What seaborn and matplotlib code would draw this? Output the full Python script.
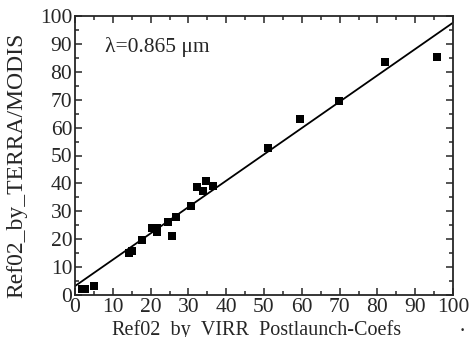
import numpy as np
import pandas as pd
import seaborn as sns
import matplotlib.pyplot as plt
from matplotlib.ticker import MultipleLocator

# reflectance values
virr = [1.8, 2.6, 5.1, 14.4, 15.2, 17.8, 20.5, 21.6, 21.8, 24.5, 25.7, 26.6,
        30.7, 32.2, 33.9, 34.7, 36.4, 51.0, 59.6, 69.9, 82.1, 95.7]
modis = [2.2, 2.3, 3.3, 15.1, 15.7, 19.6, 24.0, 24.0, 22.5, 26.2, 21.2, 28.0,
         31.8, 38.6, 37.4, 41.0, 39.2, 52.8, 63.0, 69.5, 83.6, 85.3]
fit_x = [0, 100]
fit_y = [3.2, 97.6]

df = pd.DataFrame({'virr': virr, 'modis': modis})
fit = pd.DataFrame({'x': fit_x, 'y': fit_y})

sns.set_style('ticks')
plt.rcParams['font.family'] = ['Liberation Serif', 'DejaVu Serif']

fig = plt.figure(figsize=(4.76, 3.37), dpi=100)
ax = fig.add_axes([75 / 476, 1 - 295 / 337, 378 / 476, 279 / 337])

sns.lineplot(data=fit, x='x', y='y', color='black', linewidth=1.3, ax=ax)
sns.scatterplot(data=df, x='virr', y='modis', marker='s', color='black',
                s=28, edgecolor='black', linewidth=0, ax=ax)

ax.set_xlim(0, 100)
ax.set_ylim(0, 100)
ax.xaxis.set_major_locator(MultipleLocator(10))
ax.yaxis.set_major_locator(MultipleLocator(10))
ax.xaxis.set_minor_locator(MultipleLocator(5))
ax.yaxis.set_minor_locator(MultipleLocator(5))
ax.tick_params(which='both', direction='in', top=True, right=True,
               labelsize=15.5, width=1.1, pad=2)
ax.tick_params(which='major', length=5)
ax.tick_params(which='minor', length=3)
for sp in ax.spines.values():
    sp.set_linewidth(1.3)

# underscores of the x label fall just off the bottom edge, as in the original
ax.set_xlabel('Ref02_by_VIRR_Postlaunch-Coefs', fontsize=14.5, va='baseline')
ax.xaxis.set_label_coords(0.48, -0.1434)
ax.set_ylabel('Ref02_by_TERRA/MODIS', fontsize=17, va='center')
ax.yaxis.set_label_coords(-0.153, 0.466)
ax.text(8, 87, 'λ=0.865 μm', fontsize=15.5)
fig.text(462 / 476, 1 - 331 / 337, '.', fontsize=15.5, ha='center')

plt.savefig('out.png', dpi=100)
